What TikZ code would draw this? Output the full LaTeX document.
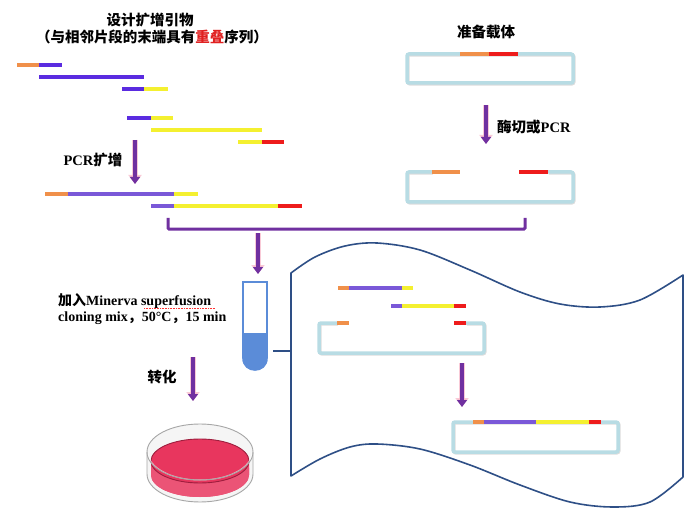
\documentclass[tikz,border=0pt]{standalone}
\usepackage{fontspec}
\setmainfont{Liberation Serif}
\newfontfamily\cjk{Noto Sans CJK SC}
\usetikzlibrary{arrows.meta}

\definecolor{seqorange}{HTML}{F0904A}
\definecolor{seqpurple}{HTML}{5A2BE0}
\definecolor{prodpurple}{HTML}{7A58D8}
\definecolor{seqyellow}{HTML}{F4F030}
\definecolor{seqred}{HTML}{EE1C1C}
\definecolor{vecblue}{HTML}{B8DCE4}
\definecolor{arrowpurple}{HTML}{7030A0}
\definecolor{glowpink}{HTML}{F6B4C6}
\definecolor{paperblue}{HTML}{2E4F86}
\definecolor{tubeblue}{HTML}{5B8CD8}
\definecolor{agar}{HTML}{E8365E}
\definecolor{agardark}{HTML}{9E1E3E}
\definecolor{titlered}{HTML}{E02020}

\newcommand{\zh}[1]{{\cjk\bfseries #1}}

\tikzset{
  seg/.style={line width=3.5pt},
  vec/.style={draw=vecblue, line width=3.5pt, rounded corners=2pt},
  vecshadow/.style={draw=gray!60, line width=3.5pt, rounded corners=2pt, opacity=0.45, shift={(0.8,0.8)}},
  flowarrow/.style={draw=arrowpurple, line width=3.6pt,
    -{Triangle[length=7pt,width=10pt]},
    preaction={draw=glowpink, line width=6.5pt, opacity=0.7,
      -{Triangle[length=9pt,width=13pt]}}},
  label/.style={inner sep=0pt, font=\bfseries\fontsize{14.5}{16}\selectfont},
  mixtext/.style={inner sep=0pt, anchor=west, font=\bfseries\fontsize{14}{16}\selectfont},
}

\begin{document}
\begin{tikzpicture}[x=1pt, y=-1pt]
\useasboundingbox (0,0) rectangle (694,508);

% ---------- headings ----------
\node[label] (title1) at (150,20) {\zh{设计扩增引物}};
\node[label] (title2) at (152,37) {\zh{（与相邻片段的末端具有\textcolor{titlered}{重叠}序列）}};
\node[label] (vectitle) at (486,32) {\zh{准备载体}};

% ---------- primers and fragments ----------
\draw[seg, seqorange] (17,65) -- (39,65);
\draw[seg, seqpurple] (39,65) -- (62,65);
\draw[seg, seqpurple] (39,77) -- (144,77);
\draw[seg, seqpurple] (122,89) -- (144,89);
\draw[seg, seqyellow] (144,89) -- (168,89);

\draw[seg, seqpurple] (127,118) -- (151,118);
\draw[seg, seqyellow] (151,118) -- (173,118);
\draw[seg, seqyellow] (151,130) -- (262,130);
\draw[seg, seqyellow] (238,142) -- (262,142);
\draw[seg, seqred] (262,142) -- (284,142);

% PCR step
\coordinate (pcrA) at (135,140);
\coordinate (pcrB) at (135,184);
\draw[flowarrow] (pcrA) -- (pcrB);
\node[label] (pcrlabel) at (93,160) {PCR\zh{扩增}};

% PCR products
\draw[seg, seqorange] (45,194) -- (68,194);
\draw[seg, prodpurple] (68,194) -- (174,194);
\draw[seg, seqyellow] (174,194) -- (198,194);
\draw[seg, prodpurple] (151,206) -- (174,206);
\draw[seg, seqyellow] (174,206) -- (278,206);
\draw[seg, seqred] (278,206) -- (302,206);

% ---------- vector preparation ----------
\draw[vecshadow] (407,54) rectangle (573,83);
\draw[vec] (407,54) rectangle (573,83);
\draw[seg, seqorange] (460,54) -- (489,54);
\draw[seg, seqred] (489,54) -- (518,54);

\coordinate (cutA) at (486,105);
\coordinate (cutB) at (486,144);
\draw[flowarrow] (cutA) -- (cutB);
\node[label, anchor=west] (cutlabel) at (497,127) {\zh{酶切或}PCR};

\draw[vecshadow] (432,172) -- (407,172) -- (407,202) -- (573,202) -- (573,172) -- (548,172);
\draw[vec] (432,172) -- (407,172) -- (407,202) -- (573,202) -- (573,172) -- (548,172);
\draw[seg, seqorange] (432,172) -- (460,172);
\draw[seg, seqred] (519,172) -- (548,172);

% ---------- bracket joining both parts ----------
\coordinate (brL) at (168,218);
\coordinate (brR) at (525,218);
\draw[arrowpurple, line width=3pt, rounded corners=1pt]
  (brL) -- (168,229) -- (525,229) -- (brR);

\coordinate (mixA) at (258,233);
\coordinate (mixB) at (258,274);
\draw[flowarrow] (mixA) -- (mixB);

% ---------- reaction mix ----------
\node[mixtext] (mix1) at (58,301) {\zh{加入}Minerva superfusion};
\node[mixtext] (mix2) at (58,318) {cloning mix\zh{，}50°C\zh{，}15 min};
\draw[red!80, densely dotted, line width=0.6pt] (144,308.5) -- (215,308.5);

% tube
\fill[tubeblue] (243,333) -- (243,358) .. controls (243,374) and (267,374) .. (267,358) -- (267,333) -- cycle;
\draw[tubeblue, line width=1.6pt] (243,282) -- (243,358) .. controls (243,374) and (267,374) .. (267,358) -- (267,282) -- cycle;
\coordinate (tubeR) at (273,351);
\coordinate (paperL) at (291,351);
\draw[paperblue, line width=1.6pt] (tubeR) -- (paperL);

% ---------- transformation ----------
\coordinate (trA) at (193,357);
\coordinate (trB) at (193,401);
\draw[flowarrow] (trA) -- (trB);
\node[label] (trlabel) at (162,377) {\zh{转化}};

% petri dish
\fill[gray!8] (147,452) -- (147,474) arc[start angle=180, end angle=360, x radius=53, y radius=-28] -- (253,452) -- cycle;
\fill[gray!8] (200,452) ellipse[x radius=53, y radius=28];
\fill[agar] (151,461) -- (151,475) arc[start angle=180, end angle=360, x radius=49, y radius=-22] -- (249,461) -- cycle;
\fill[agar!85!white] (151,468) -- (151,475) arc[start angle=180, end angle=360, x radius=49, y radius=-22] -- (249,468) arc[start angle=0, end angle=180, x radius=49, y radius=-20] -- cycle;
\fill[agar] (200,461) ellipse[x radius=49, y radius=22];
\draw[agardark, line width=0.9pt] (200,461) ellipse[x radius=49, y radius=22];
\draw[white, opacity=0.6, line width=1pt] (148,452) arc[start angle=180, end angle=360, x radius=52, y radius=-28];
\draw[gray!70, line width=0.9pt] (200,452) ellipse[x radius=53, y radius=28];
\draw[gray!70, line width=0.9pt] (147,452) -- (147,474) arc[start angle=180, end angle=360, x radius=53, y radius=-28] -- (253,452);

% ---------- annealing panel ----------
\draw[paperblue, line width=1.6pt, line join=round]
  plot[smooth, tension=0.55] coordinates {(291,273) (315,257) (345,246) (377,243) (420,250) (470,270) (520,292) (560,304) (600,307) (640,300) (683,275)}
  -- (683,477)
  -- plot[smooth, tension=0.55] coordinates {(683,477) (650,502) (613,507) (570,502) (520,485) (470,465) (420,449) (377,444) (350,447) (320,459) (291,476)}
  -- cycle;

\draw[seg, seqorange] (338,288) -- (349,288);
\draw[seg, prodpurple] (349,288) -- (402,288);
\draw[seg, seqyellow] (402,288) -- (413,288);
\draw[seg, prodpurple] (391,306) -- (402,306);
\draw[seg, seqyellow] (402,306) -- (454,306);
\draw[seg, seqred] (454,306) -- (466,306);

\draw[vecshadow] (337,323) -- (319,323) -- (319,353) -- (484,353) -- (484,323) -- (466,323);
\draw[vec] (337,323) -- (319,323) -- (319,353) -- (484,353) -- (484,323) -- (466,323);
\draw[seg, seqorange] (337,323) -- (349,323);
\draw[seg, seqred] (454,323) -- (466,323);

\coordinate (ligA) at (462,363);
\coordinate (ligB) at (462,407);
\draw[flowarrow] (ligA) -- (ligB);

\draw[vecshadow] (453,422) rectangle (618,452);
\draw[vec] (453,422) rectangle (618,452);
\draw[seg, seqorange] (473,422) -- (484,422);
\draw[seg, prodpurple] (484,422) -- (536,422);
\draw[seg, seqyellow] (536,422) -- (589,422);
\draw[seg, seqred] (589,422) -- (601,422);

\end{tikzpicture}
\end{document}
